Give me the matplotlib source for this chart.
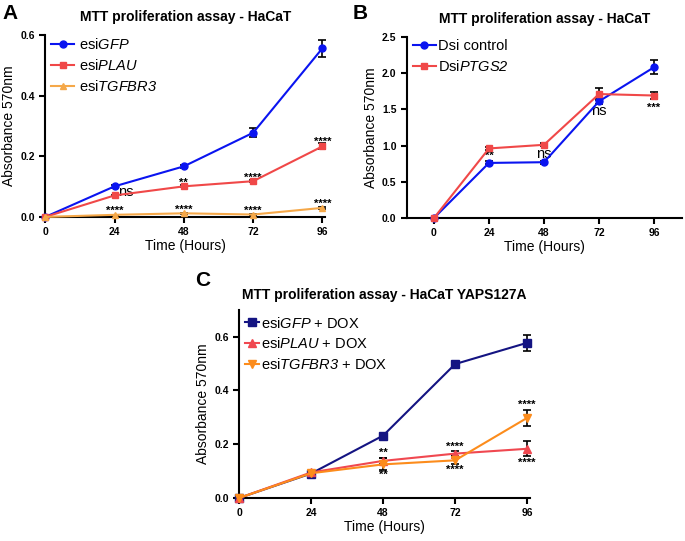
import matplotlib
matplotlib.use('Agg')
import matplotlib.pyplot as plt
from matplotlib.lines import Line2D

plt.rcParams['font.family'] = ['Liberation Sans', 'DejaVu Sans']
plt.rcParams['mathtext.fontset'] = 'custom'
# only the gene names go through mathtext, so all of it can be italic
plt.rcParams['mathtext.rm'] = 'Liberation Sans:italic'
plt.rcParams['mathtext.it'] = 'Liberation Sans:italic'

# Time points (hours)
hours = [0, 24, 48, 72, 96]

# Panel A - HaCaT
a_gfp = [0.0, 0.101, 0.167, 0.278, 0.557]
a_gfp_err = [0.0, 0.004, 0.004, 0.014, 0.028]
a_plau = [0.0, 0.071, 0.101, 0.118, 0.233]
a_plau_err = [0.0, 0.003, 0.003, 0.004, 0.010]
a_tgfbr3 = [0.0, 0.007, 0.012, 0.008, 0.030]
a_tgfbr3_err = [0.0, 0.001, 0.002, 0.001, 0.003]

# Panel B - HaCaT (Dsi)
b_ctrl = [0.0, 0.76, 0.77, 1.61, 2.08]
b_ctrl_err = [0.0, 0.02, 0.02, 0.04, 0.10]
b_ptgs2 = [0.0, 0.96, 1.01, 1.71, 1.69]
b_ptgs2_err = [0.0, 0.02, 0.02, 0.08, 0.05]

# Panel C - HaCaT YAPS127A
c_gfp = [0.0, 0.091, 0.232, 0.498, 0.577]
c_gfp_err = [0.0, 0.004, 0.005, 0.006, 0.030]
c_plau = [0.0, 0.095, 0.138, 0.165, 0.183]
c_plau_err = [0.0, 0.004, 0.012, 0.010, 0.028]
c_tgfbr3 = [0.0, 0.092, 0.125, 0.140, 0.298]
c_tgfbr3_err = [0.0, 0.004, 0.022, 0.015, 0.030]

fig = plt.figure(figsize=(6.85, 5.41), dpi=100)


def style_axes(ax, xlim, ylim, yticks, yfmt):
    ax.set_xlim(*xlim)
    ax.set_ylim(*ylim)
    ax.set_xticks(hours)
    ax.set_yticks(yticks)
    ax.set_yticklabels([yfmt.format(v) for v in yticks])
    for s in ['top', 'right']:
        ax.spines[s].set_visible(False)
    for s in ['left', 'bottom']:
        ax.spines[s].set_linewidth(1.5)
    ax.tick_params(width=1.5, length=4, labelsize=7.5)
    for lab in ax.get_xticklabels() + ax.get_yticklabels():
        lab.set_fontweight('bold')
    ax.set_xlabel('Time (Hours)', fontsize=10, labelpad=1)
    ax.set_ylabel('Absorbance 570nm', fontsize=10, labelpad=3)


def series(ax, y, err, color, marker, ms=5):
    ax.errorbar(hours, y, yerr=err, color=color, marker=marker, ms=ms,
                lw=1.5, ecolor='black', elinewidth=1.2, capsize=3,
                capthick=1.2, clip_on=False, zorder=3)
    return Line2D([], [], color=color, marker=marker, ms=ms, lw=1.5)


def stars(ax, pts, txt):
    for x, y in pts:
        ax.text(x, y, txt, fontsize=8, ha='center', va='center', fontweight='bold')


# ---- Panel A ----
axA = fig.add_axes([0.066, 0.599, 0.409, 0.336])
hA = [series(axA, a_gfp, a_gfp_err, '#0a14f0', 'o'),
      series(axA, a_plau, a_plau_err, '#f04848', 's'),
      series(axA, a_tgfbr3, a_tgfbr3_err, '#f5a849', '^')]
style_axes(axA, (0, 97), (0, 0.6), [0.0, 0.2, 0.4, 0.6], '{:.1f}')
axA.set_title('MTT proliferation assay - HaCaT', fontsize=10, fontweight='bold', pad=10)
axA.legend(hA, [r'esi$GFP$', r'esi$PLAU$', r'esi$TGFBR3$'],
           loc='upper left', frameon=False, fontsize=10.5, handlelength=1.6,
           handletextpad=0.3, borderaxespad=0.0, labelspacing=0.4,
           bbox_to_anchor=(0.0, 1.02))
axA.text(28, 0.083, 'ns', fontsize=10.5, ha='center', va='center')
stars(axA, [(48, 0.113)], '**')
stars(axA, [(72, 0.13), (96, 0.247)], '****')
stars(axA, [(24, 0.02), (48, 0.025), (72, 0.02), (96, 0.043)], '****')
fig.text(0.003, 0.975, 'A', fontsize=15, fontweight='bold', va='center')

# ---- Panel B ----
axB = fig.add_axes([0.594, 0.597, 0.401, 0.335])
hB = [series(axB, b_ctrl, b_ctrl_err, '#0a14f0', 'o'),
      series(axB, b_ptgs2, b_ptgs2_err, '#f04848', 's')]
style_axes(axB, (-11.8, 108), (0, 2.5), [0.0, 0.5, 1.0, 1.5, 2.0, 2.5], '{:.1f}')
axB.set_title('MTT proliferation assay - HaCaT', fontsize=10, fontweight='bold', pad=10)
axB.legend(hB, ['Dsi control', r'Dsi$PTGS2$'],
           loc='upper left', frameon=False, fontsize=10.5, handlelength=1.6,
           handletextpad=0.1, borderaxespad=0.0, labelspacing=0.4,
           bbox_to_anchor=(0.0, 1.02))
stars(axB, [(24, 0.86)], '**')
axB.text(48, 0.88, 'ns', fontsize=10.5, ha='center', va='center')
axB.text(72, 1.47, 'ns', fontsize=10.5, ha='center', va='center')
stars(axB, [(96, 1.52)], '***')
fig.text(0.515, 0.975, 'B', fontsize=15, fontweight='bold', va='center')

# ---- Panel C ----
axC = fig.add_axes([0.349, 0.0795, 0.425, 0.348])
hC = [series(axC, c_gfp, c_gfp_err, '#141482', 's', ms=6),
      series(axC, c_plau, c_plau_err, '#f04850', '^', ms=6),
      series(axC, c_tgfbr3, c_tgfbr3_err, '#fc8c1c', 'v', ms=6)]
style_axes(axC, (0, 97), (0, 0.7), [0.0, 0.2, 0.4, 0.6], '{:.1f}')
axC.set_title('MTT proliferation assay - HaCaT YAPS127A', fontsize=10,
              fontweight='bold', pad=8)
axC.legend(hC, [r'esi$GFP$ + DOX', r'esi$PLAU$ + DOX', r'esi$TGFBR3$ + DOX'],
           loc='upper left', frameon=False, fontsize=10.5, handlelength=1.0,
           handletextpad=0.1, borderaxespad=0.0, labelspacing=0.4,
           bbox_to_anchor=(0.0, 1.0))
stars(axC, [(48, 0.168), (48, 0.085)], '**')
stars(axC, [(72, 0.19), (96, 0.345), (72, 0.105), (96, 0.132)], '****')
fig.text(0.285, 0.482, 'C', fontsize=15, fontweight='bold', va='center')

fig.savefig('out.png', dpi=100)
